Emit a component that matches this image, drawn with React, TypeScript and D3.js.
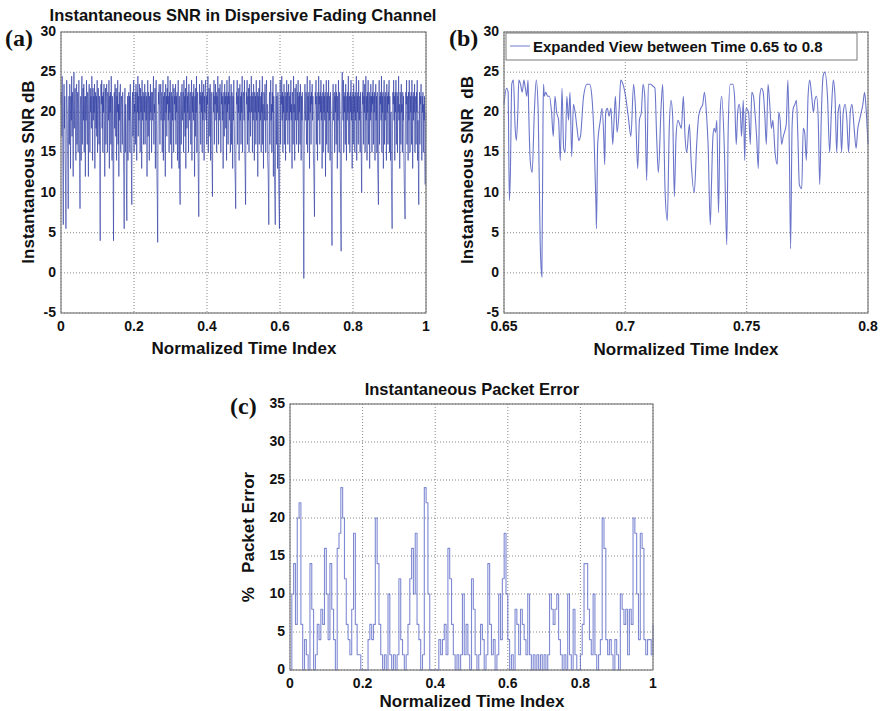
import React from "react";
import * as d3 from "d3";

// ---------- DATA ----------
// (a) Instantaneous SNR (dB) over normalized time 0..1
const snrA: number[] = [
  21, 22.5, 17, 24.5, 19, 12, 6, 20, 23.5, 18, 22, 14, 11, 5.5, 19, 24, 21, 17, 13, 8,
  20, 22, 16, 23.5, 21, 13, 22, 19, 24.5, 17, 22.5, 20, 12, 21.5, 25, 18, 21, 23, 19, 14,
  22, 23.5, 16, 21, 22.5, 15, 20, 24, 19, 13, 8, 21, 22, 14, 22, 24.5, 16, 20, 23, 19,
  23.5, 15, 21, 22, 12, 22, 19, 24, 20, 16, 22.5, 21, 12, 22, 23.5, 19, 15, 23, 20, 22,
  18, 24.5, 21, 14, 23, 19, 22, 20, 23.5, 13, 21, 22.5, 18, 22, 17, 24, 15, 20, 23, 21,
  16, 22, 12, 4, 19, 23.5, 21, 24, 18, 22, 15, 22.5, 20, 23.5, 19, 12, 21, 23, 16, 22,
  23.5, 20, 15, 22.5, 21, 19, 24, 13, 22, 20, 22.5, 16, 24.5, 21, 14, 22, 19, 11, 4, 20,
  22.5, 18, 23.5, 21, 17, 23, 14, 22, 20, 24, 16, 21, 12, 22.5, 19, 22, 23.5, 15, 20, 22,
  21, 16, 22.5, 19, 15, 12, 5.5, 20, 23, 15, 21, 18, 10, 6.5, 18, 22, 14, 20, 22.5, 19,
  22, 15, 23.5, 20, 18, 13, 8.5, 21, 22.5, 17, 22, 24, 15, 21, 20, 22.5, 16, 23.5, 21, 14,
  22.5, 20, 24.5, 17, 22, 19, 23.5, 21, 15, 23, 20, 22, 13, 24, 19, 21, 22.5, 16, 22, 20,
  23.5, 16, 21, 22.5, 19, 22, 12, 20, 24, 17, 22.5, 21, 14, 22, 19, 23.5, 20, 22.5, 15, 21,
  22.5, 19, 22, 24.5, 16, 21, 20, 23, 13, 22, 24, 19, 12, 9, 3.8, 18, 22.5, 21, 23.5, 20,
  16, 22, 23.5, 19, 21, 22.5, 15, 20, 24, 14, 22, 19, 22.5, 21, 12, 23.5, 20, 22, 17, 23,
  21, 24.5, 19, 22, 15, 22.5, 20, 24, 16, 21, 22.5, 13, 22, 19, 23.5, 20, 15, 23, 21, 22,
  19, 23.5, 16, 22, 20, 22.5, 14, 21, 24, 19, 13, 22, 11, 8.5, 20, 22.5, 16, 22, 23.5, 19,
  21, 22.5, 15, 24, 20, 22, 17, 23, 13, 21, 24.5, 18, 22, 20, 22.5, 15, 23.5, 21, 19, 22,
  22.5, 16, 21, 24, 14, 22, 20, 22.5, 19, 23.5, 21, 12, 22, 17, 23, 20, 24.5, 15, 21, 22.5,
  15, 11, 7, 19, 23.5, 21, 22.5, 16, 22, 20, 24, 15, 22.5, 19, 21, 23.5, 14, 22, 20, 23,
  24, 19, 22, 16, 22.5, 21, 24.5, 15, 20, 23, 22, 17, 23.5, 14, 21, 22.5, 16, 13, 9.5, 21,
  22.5, 20, 24, 16, 22, 21, 23.5, 19, 22.5, 15, 22, 20, 24.5, 21, 16, 23, 19, 22, 23.5, 20,
  15, 22.5, 21, 24, 19, 22, 13, 20, 22.5, 17, 23.5, 21, 22, 18, 22.5, 14, 24, 20, 22, 16,
  22.5, 21, 24.5, 19, 22, 15, 20, 23.5, 16, 22.5, 21, 13, 22, 19, 24, 20, 16, 13, 11, 8,
  19, 22.5, 21, 24, 16, 22, 20, 23, 14, 21, 23.5, 19, 22, 16, 22.5, 20, 24.5, 15, 21, 22,
  22.5, 19, 24, 15, 12, 8.5, 20, 22.5, 21, 24, 16, 22, 19, 23, 15, 23.5, 20, 22, 17, 21,
  24.5, 20, 22.5, 15, 22, 19, 23.5, 21, 14, 22.5, 20, 22, 16, 24, 19, 21, 22.5, 12, 22, 20,
  23, 16, 24, 21, 19, 22, 15, 22.5, 20, 24.5, 16, 21, 13, 22.5, 22, 19, 23.5, 20, 15, 22,
  24, 19, 21, 14, 13, 10, 6, 20, 22.5, 16, 22, 24, 19, 21, 15, 22.5, 20, 24.5, 12, 22,
  19, 12, 9, 6, 20, 23.5, 16, 22, 21, 13, 22.5, 19, 11, 8, 5.5, 20, 24, 16, 22, 21,
  24.5, 19, 22.5, 15, 22, 20, 23.5, 16, 21, 22.5, 14, 22, 19, 24, 20, 22.5, 16, 21, 23.5, 19,
  22, 15, 22.5, 20, 24, 19, 21, 13, 22.5, 22, 16, 24.5, 20, 21, 14, 23, 19, 22, 23.5, 16,
  21, 22.5, 19, 24, 15, 22, 20, 22.5, 16, 23.5, 21, 14, 22, 19, 22.5, 20, 14, 8, -0.7, 17,
  22, 23.5, 19, 21, 22.5, 16, 20, 24.5, 15, 22, 19, 22.5, 21, 13, 24, 20, 22, 16, 22.5, 21,
  23.5, 19, 22, 15, 13, 10, 7, 19, 22.5, 21, 24, 16, 22, 20, 14, 22.5, 19, 24.5, 21, 22,
  16, 22.5, 20, 24, 19, 22, 13, 21, 22.5, 15, 23.5, 20, 22, 19, 22.5, 12, 21, 24, 16, 22,
  20, 22.5, 15, 24, 21, 19, 22, 14, 22.5, 20, 14, 9, 3.4, 18, 22, 23.5, 19, 21, 22.5, 15,
  22, 20, 23.5, 16, 22.5, 21, 13, 22, 19, 24, 20, 15, 22.5, 21, 12, 7, 2.7, 18, 23, 25,
  21, 19, 24, 15, 22, 20, 22.5, 16, 23.5, 21, 14, 22, 19, 22.5, 20, 24.5, 16, 21, 22, 15,
  22.5, 20, 24, 19, 22, 13, 21, 22.5, 16, 23.5, 20, 22, 15, 22.5, 19, 21, 24.5, 14, 22, 20,
  22.5, 16, 24, 21, 19, 22, 15, 22.5, 20, 14, 10, 19, 22.5, 21, 24, 16, 22, 20, 23.5, 15,
  21, 24.5, 19, 22, 14, 22.5, 20, 24, 16, 21, 22.5, 13, 22, 19, 23.5, 20, 22, 15, 22.5, 21,
  24, 16, 22, 20, 22.5, 14, 21, 23.5, 19, 22, 15, 22.5, 13, 11, 8.5, 20, 24, 16, 22, 21,
  22.5, 19, 24.5, 15, 22, 20, 22.5, 13, 21, 24, 16, 22, 19, 22.5, 21, 14, 23.5, 20, 22, 16,
  22.5, 21, 24, 15, 22, 19, 14, 20, 12, 9, 5.5, 18, 22.5, 21, 24, 19, 22, 14, 22.5, 20,
  24, 16, 21, 22.5, 15, 22, 20, 24.5, 19, 21, 13, 22.5, 22, 16, 23.5, 20, 21, 15, 22.5, 19,
  22, 14, 11, 9, 6.7, 19, 22.5, 21, 24, 16, 22, 20, 14, 22.5, 19, 24, 21, 15, 22, 20,
  22.5, 16, 24, 21, 13, 22, 19, 22.5, 20, 23.5, 15, 21, 22, 16, 22.5, 20, 24, 14, 19, 13,
  8.5, 20, 22.5, 16, 22, 21, 23.5, 19, 14, 22, 20, 22.5, 15, 21, 19, 22, 14, 11, 18, 20,
];

// (b) Expanded view 0.65..0.8 : time and SNR dB
const timeB: number[] = [
  0.65, 0.651, 0.6517, 0.6522, 0.6526, 0.6532, 0.6539, 0.6546, 0.6551, 0.6557,
  0.6561, 0.6568, 0.6575, 0.6582, 0.6588, 0.6594, 0.6599, 0.6602, 0.6608, 0.6616,
  0.6625, 0.6633, 0.6641, 0.6649, 0.6656, 0.6661, 0.6663, 0.6666, 0.6672, 0.668,
  0.6687, 0.6696, 0.6703, 0.671, 0.6717, 0.6725, 0.6732, 0.6739, 0.6746, 0.6752,
  0.6759, 0.6766, 0.6772, 0.6779, 0.6786, 0.6793, 0.6801, 0.6808, 0.6815, 0.6828,
  0.6842, 0.6853, 0.6862, 0.6872, 0.6879, 0.6881, 0.6886, 0.6897, 0.6904, 0.6911,
  0.6915, 0.6919, 0.6926, 0.6933, 0.6941, 0.6948, 0.6952, 0.6959, 0.6966, 0.6974,
  0.6981, 0.699, 0.7001, 0.7012, 0.7023, 0.7034, 0.7041, 0.7051, 0.7058, 0.7066,
  0.7073, 0.708, 0.7088, 0.7095, 0.7104, 0.7112, 0.7122, 0.7129, 0.7136, 0.7148,
  0.7154, 0.7164, 0.7173, 0.7181, 0.7188, 0.7195, 0.7202, 0.7209, 0.7217, 0.7224,
  0.7231, 0.7239, 0.7246, 0.7253, 0.7264, 0.7271, 0.7284, 0.7294, 0.7302, 0.7311,
  0.7319, 0.7326, 0.7334, 0.7341, 0.735, 0.7355, 0.7361, 0.7366, 0.7372, 0.7377,
  0.7384, 0.7391, 0.7397, 0.7408, 0.7418, 0.7424, 0.7432, 0.7443, 0.745, 0.7457,
  0.7463, 0.7469, 0.7474, 0.7479, 0.7486, 0.7492, 0.7497, 0.7508, 0.7515, 0.7521,
  0.7528, 0.7534, 0.7541, 0.7548, 0.7554, 0.7561, 0.7568, 0.7575, 0.7581, 0.7588,
  0.7595, 0.7602, 0.7608, 0.7617, 0.7626, 0.7632, 0.7638, 0.7644, 0.7651, 0.7663,
  0.767, 0.7676, 0.7681, 0.7687, 0.7692, 0.7699, 0.7705, 0.7711, 0.7717, 0.7727,
  0.7733, 0.7739, 0.7746, 0.7753, 0.776, 0.7768, 0.7775, 0.7781, 0.7788, 0.7795,
  0.7801, 0.7808, 0.7815, 0.7822, 0.7833, 0.7842, 0.7849, 0.7857, 0.7864, 0.7871,
  0.7877, 0.7884, 0.7891, 0.7898, 0.7906, 0.7913, 0.792, 0.7927, 0.7934, 0.7943,
  0.7951, 0.7958, 0.7965, 0.7972, 0.7979, 0.7986, 0.7993, 0.8,
];
const snrB: number[] = [
  21, 23, 22.5, 9, 12, 23.5, 24, 18, 16.5, 20,
  24, 23.5, 22.5, 24, 23, 22, 24, 20, 14, 12.5,
  20, 24, 20, 4, -0.5, 20, 23.5, 22, 22.5, 22,
  22, 20, 17, 22, 20, 19, 14, 23, 15.5, 15,
  22, 19, 22.5, 14.5, 21, 20, 18, 16.5, 17, 22,
  23.5, 23.5, 22, 16, 8.5, 5.5, 16, 19, 20.5, 17,
  13.5, 20, 20.5, 19.5, 20.5, 16, 18, 22, 17.5, 20,
  24, 23.5, 22, 19.5, 17, 23.5, 21, 13, 19, 20,
  23.5, 22, 11.5, 23.5, 23.5, 23.3, 23, 17, 12.5, 21,
  23.5, 10, 6.5, 18, 21.5, 19.5, 9.5, 17, 19, 18.5,
  18, 22, 17, 15, 18.5, 14, 10, 16, 19.5, 20.5,
  21, 22.5, 20, 16, 6, 11, 17, 18, 17.5, 19,
  7.5, 20, 22, 15.5, 3.5, 18, 23.5, 23.5, 22, 16,
  20, 21, 20, 17, 21.5, 14, 20.5, 20, 16, 22.5,
  22, 20, 17, 13, 22, 23, 22.5, 19.5, 16, 23.5,
  21, 18, 19, 15, 13.5, 20, 19, 16, 17, 18.5,
  24, 15, 3, 18, 20.5, 21, 21.5, 17, 11, 10.5,
  18, 17.5, 14, 22, 24, 22, 20, 21.5, 22, 19,
  11, 20, 24.5, 25, 22, 15, 20, 24, 22, 15,
  20, 21, 15, 20, 21, 19, 15, 20, 21, 18,
  15.5, 18, 19, 20, 21, 22.5, 20, 16,
];

// (c) Instantaneous packet error (%) over normalized time 0..1
const perC: number[] = [
  0, 10, 14, 6, 20, 22, 6, 0, 4, 2,
  0, 14, 8, 0, 2, 6, 4, 8, 6, 16,
  10, 4, 14, 8, 4, 0, 16, 18, 24, 20,
  12, 6, 4, 2, 8, 18, 6, 2, 2, 0,
  0, 0, 0, 4, 6, 4, 6, 20, 14, 6,
  2, 0, 2, 0, 10, 2, 0, 2, 0, 2,
  12, 4, 2, 0, 2, 6, 12, 16, 10, 18,
  6, 4, 0, 2, 24, 22, 10, 0, 0, 0,
  0, 0, 4, 2, 4, 6, 2, 16, 12, 6,
  2, 0, 2, 0, 2, 10, 2, 6, 2, 0,
  12, 8, 2, 0, 2, 6, 4, 0, 2, 14,
  6, 2, 4, 0, 2, 10, 4, 12, 18, 10,
  4, 0, 2, 0, 8, 6, 2, 8, 6, 4,
  2, 10, 2, 0, 2, 0, 2, 0, 2, 0,
  2, 0, 2, 10, 8, 6, 8, 10, 4, 2,
  0, 2, 0, 10, 2, 0, 8, 2, 0, 0,
  2, 6, 14, 14, 8, 4, 2, 10, 2, 0,
  2, 4, 20, 16, 4, 2, 4, 2, 0, 4,
  2, 0, 10, 8, 6, 8, 2, 8, 6, 20,
  18, 10, 4, 18, 16, 4, 2, 4, 4, 2,
  6,
];

const ticksA_X = [0, 0.2, 0.4, 0.6, 0.8, 1];
const ticksB_X = [0.65, 0.7, 0.75, 0.8];
const ticksSNR_Y = [-5, 0, 5, 10, 15, 20, 25, 30];
const ticksC_Y = [0, 5, 10, 15, 20, 25, 30, 35];

// ---------- STYLE ----------
const FONT = "'Liberation Sans', Arial, Helvetica, sans-serif";
const SERIF = "'Liberation Serif', 'Times New Roman', serif";
const LINE = "#2a399f";
const FRAME = "#7a7a7a";
const GRID = "#6a6a6a";

type FrameProps = {
  left: number; right: number; top: number; bottom: number;
  x: d3.ScaleLinear<number, number>; y: d3.ScaleLinear<number, number>;
  xTicks: number[]; yTicks: number[];
  path: string;
  stroke: string; strokeOpacity: number; strokeWidth: number;
  tickSize?: number;
};

function Frame(p: FrameProps) {
  const { x, y } = p;
  const fs = p.tickSize ?? 14;
  return (
    <g>
      {p.xTicks.map((t) => (
        <line key={"gx" + t} x1={x(t)} x2={x(t)} y1={p.top} y2={p.bottom}
          stroke={GRID} strokeWidth={0.8} strokeDasharray="1,2" />
      ))}
      {p.yTicks.map((t) => (
        <line key={"gy" + t} x1={p.left} x2={p.right} y1={y(t)} y2={y(t)}
          stroke={GRID} strokeWidth={0.8} strokeDasharray="1,2" />
      ))}
      <path d={p.path} fill="none" stroke={p.stroke} strokeOpacity={p.strokeOpacity}
        strokeWidth={p.strokeWidth} strokeLinejoin="round" />
      <rect x={p.left} y={p.top} width={p.right - p.left} height={p.bottom - p.top}
        fill="none" stroke={FRAME} strokeWidth={1.2} />
      {p.xTicks.map((t) => (
        <text key={"tx" + t} x={x(t)} y={p.bottom + 18} textAnchor="middle"
          fontFamily={FONT} fontWeight="bold" fontSize={fs} fill="#111">{String(t)}</text>
      ))}
      {p.yTicks.map((t) => (
        <text key={"ty" + t} x={p.left - 5} y={y(t) + 4} textAnchor="end"
          fontFamily={FONT} fontWeight="bold" fontSize={fs} fill="#111">{t}</text>
      ))}
    </g>
  );
}

export default function App() {
  // Panel (a)
  const pa = { left: 61, right: 426, top: 32, bottom: 313 };
  const xa = d3.scaleLinear().domain([0, 1]).range([pa.left, pa.right]);
  const ya = d3.scaleLinear().domain([-5, 30]).range([pa.bottom, pa.top]);
  const lineA = d3.line<number>()
    .x((_, i) => xa(i / (snrA.length - 1)))
    .y((d) => ya(d));
  const pathA = lineA(snrA) || "";

  // Panel (b)
  const pb = { left: 504, right: 868, top: 32, bottom: 313 };
  const xb = d3.scaleLinear().domain([0.65, 0.8]).range([pb.left, pb.right]);
  const yb = d3.scaleLinear().domain([-5, 30]).range([pb.bottom, pb.top]);
  const lineB = d3.line<number>()
    .x((_, i) => xb(timeB[i]))
    .y((d) => yb(d))
    .curve(d3.curveMonotoneX);
  const pathB = lineB(snrB) || "";

  // Panel (c)
  const pc = { left: 290, right: 653, top: 404, bottom: 670 };
  const xc = d3.scaleLinear().domain([0, 1]).range([pc.left, pc.right]);
  const yc = d3.scaleLinear().domain([0, 35]).range([pc.bottom, pc.top]);
  const lineC = d3.line<number>()
    .x((_, i) => xc(i / (perC.length - 1)))
    .y((d) => yc(d))
    .curve(d3.curveStepAfter);
  const pathC = lineC(perC) || "";

  return (
    <svg width={882} height={711} style={{ display: "block", position: "absolute", left: 0, top: 0, background: "#fff" }}>
      <rect x={0} y={0} width={882} height={711} fill="#fff" />

      {/* Panel (a) */}
      <text x={243} y={21} textAnchor="middle" fontFamily={FONT} fontWeight="bold" fontSize={16.5} fill="#111">
        Instantaneous SNR in Dispersive Fading Channel
      </text>
      <text x={5} y={46} fontFamily={SERIF} fontWeight="bold" fontSize={24} fill="#111">(a)</text>
      <Frame {...pa} x={xa} y={ya} xTicks={ticksA_X} yTicks={ticksSNR_Y}
        path={pathA} stroke={LINE} strokeOpacity={0.62} strokeWidth={1} />
      <text x={244} y={354} textAnchor="middle" fontFamily={FONT} fontWeight="bold" fontSize={17} fill="#111">
        Normalized Time Index
      </text>
      <text transform={`translate(34,172) rotate(-90)`} textAnchor="middle" fontFamily={FONT} fontWeight="bold" fontSize={17} fill="#111">
        Instantaneous SNR dB
      </text>

      {/* Panel (b) */}
      <text x={449} y={46} fontFamily={SERIF} fontWeight="bold" fontSize={24} fill="#111">(b)</text>
      <Frame {...pb} x={xb} y={yb} xTicks={ticksB_X} yTicks={ticksSNR_Y}
        path={pathB} stroke="#3a48b8" strokeOpacity={0.75} strokeWidth={1.1} />
      <rect x={506} y={33} width={351} height={27} fill="#fff" stroke={FRAME} strokeWidth={1} />
      <line x1={510} x2={530} y1={46} y2={46} stroke="#3a48b8" strokeOpacity={0.6} strokeWidth={1.2} />
      <text x={533} y={52} fontFamily={FONT} fontWeight="bold" fontSize={15} fill="#111">
        Expanded View between Time 0.65 to 0.8
      </text>
      <text x={686} y={355} textAnchor="middle" fontFamily={FONT} fontWeight="bold" fontSize={17} fill="#111">
        Normalized Time Index
      </text>
      <text transform={`translate(473,170) rotate(-90)`} textAnchor="middle" fontFamily={FONT} fontWeight="bold" fontSize={17} fill="#111" style={{ whiteSpace: "pre" }}>
        {"Instantaneous SNR  dB"}
      </text>

      {/* Panel (c) */}
      <text x={472} y={395} textAnchor="middle" fontFamily={FONT} fontWeight="bold" fontSize={16.5} fill="#111">
        Instantaneous Packet Error
      </text>
      <text x={230} y={414} fontFamily={SERIF} fontWeight="bold" fontSize={24} fill="#111">(c)</text>
      <Frame {...pc} x={xc} y={yc} xTicks={ticksA_X} yTicks={ticksC_Y}
        path={pathC} stroke="#4a58c0" strokeOpacity={0.7} strokeWidth={1.1} />
      <text x={472} y={707} textAnchor="middle" fontFamily={FONT} fontWeight="bold" fontSize={17} fill="#111">
        Normalized Time Index
      </text>
      <text transform={`translate(254,537) rotate(-90)`} textAnchor="middle" fontFamily={FONT} fontWeight="bold" fontSize={17} fill="#111" style={{ whiteSpace: "pre" }}>
        {"%   Packet Error"}
      </text>
    </svg>
  );
}
